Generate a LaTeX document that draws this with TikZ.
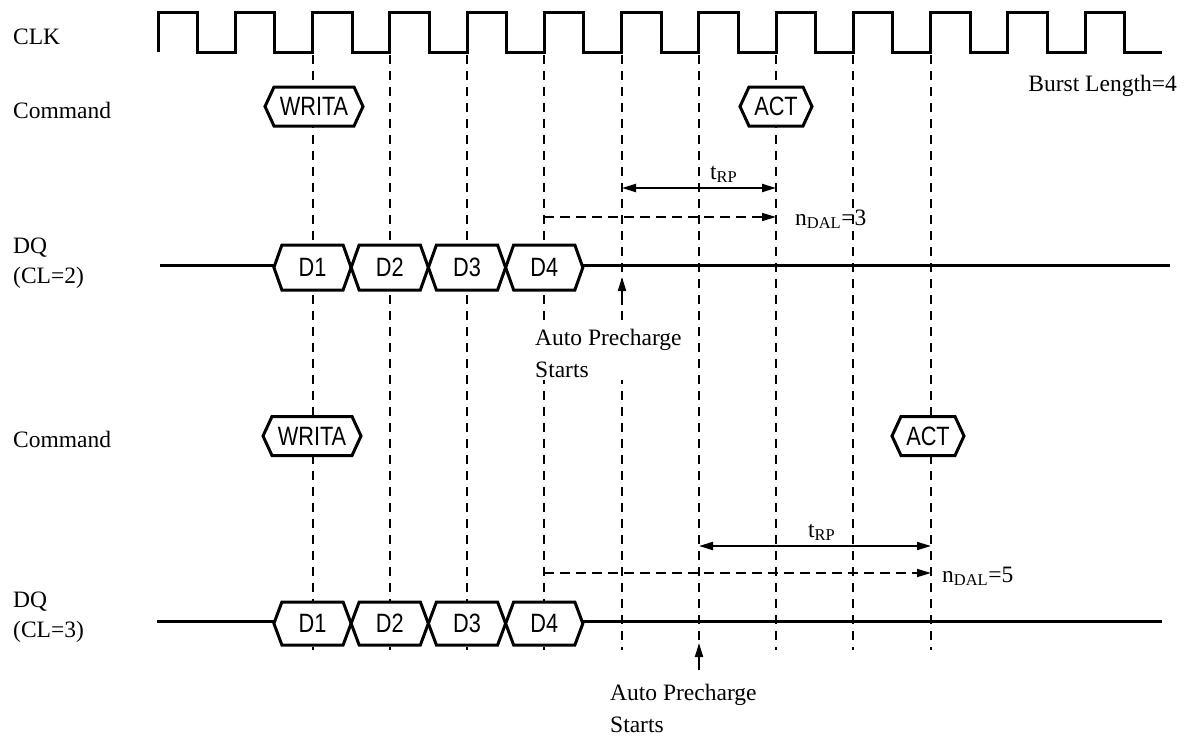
\documentclass[tikz,border=0pt]{standalone}
\usepackage{fontspec}
\setmainfont{Liberation Serif}
\newfontfamily\hexfont[FakeStretch=0.82]{Liberation Sans}
\usetikzlibrary{arrows.meta}
\newcommand{\hexsig}[7]{% name, cx, cy, halfwidth, halfheight, inset, text
  \filldraw[hex] ({#2-#4},#3) -- ({#2-#4+#6},{#3-#5}) -- ({#2+#4-#6},{#3-#5}) -- ({#2+#4},#3)
     -- ({#2+#4-#6},{#3+#5}) -- ({#2-#4+#6},{#3+#5}) -- cycle;
  \node[hextxt] (#1) at (#2,#3) {#7};}
\begin{document}
\begin{tikzpicture}[x=1pt,y=-1pt,
  lbl/.style={font=\fontsize{23.5}{32}\selectfont, inner sep=0pt, anchor=base west},
  gridline/.style={line width=1.5pt, dash pattern=on 9pt off 7pt},
  wave/.style={line width=3pt, line join=miter},
  hex/.style={line width=3pt, fill=white, draw=black, line join=miter},
  hextxt/.style={font=\hexfont\fontsize{26.5}{26.5}\selectfont, inner sep=0pt},
  dimarrow/.style={line width=2pt, {Triangle[length=14pt,width=8pt]}-{Triangle[length=14pt,width=8pt]}},
  dalarrow/.style={line width=1.5pt, dash pattern=on 10pt off 6pt, -{Triangle[length=14pt,width=8pt]}},
  aparrow/.style={line width=2pt, -{Triangle[length=14pt,width=8pt]}},
  note/.style={font=\fontsize{23.5}{32}\selectfont, fill=white, inner xsep=2pt, inner ysep=2pt, align=left, anchor=north west}
]
\useasboundingbox (0,0) rectangle (1185,736);

% clock edge coordinates
\foreach \k in {2,...,10} {\pgfmathsetmacro{\ex}{round(158+77.25*\k)}\coordinate (e\k) at (\ex,0);}

% dashed reference lines
\foreach \k in {2,...,10} {\draw[gridline] (e\k |- 0,55) -- (e\k |- 0,650);}

% clock waveform
\draw[wave] (158,52) \foreach \k in {0,...,12} { -- ({158+77.25*\k},52) -- ({158+77.25*\k},12) -- ({197.5+77.25*\k},12) -- ({197.5+77.25*\k},52) } -- (1162,52);

% labels
\node[lbl] (clk) at (13,44) {CLK};
\node[lbl] (cmd1) at (13,118) {Command};
\node[lbl] (dq1) at (13,253) {DQ};
\node[lbl] (cl2) at (13,283) {(CL=2)};
\node[lbl] (cmd2) at (13,447) {Command};
\node[lbl] (dq2) at (13,607) {DQ};
\node[lbl] (cl3) at (13,637) {(CL=3)};
\node[lbl, anchor=base east] (bl) at (1177,91) {Burst Length=4};

% DQ lines
\draw[wave] (160,265) -- (1170,265);
\draw[wave] (157,621) -- (1162,621);

% commands
\hexsig{writa1}{314}{106.5}{49}{19.5}{9}{WRITA}
\hexsig{act1}{776}{106.5}{36}{19.5}{9}{ACT}
\hexsig{writa2}{312}{436}{49}{19.5}{9}{WRITA}
\hexsig{act2}{928}{436}{36}{19.5}{9}{ACT}

% data upper
\hexsig{d1a}{312.5}{267.5}{38.6}{22.5}{8}{D1}
\hexsig{d2a}{389.75}{267.5}{38.6}{22.5}{8}{D2}
\hexsig{d3a}{467}{267.5}{38.6}{22.5}{8}{D3}
\hexsig{d4a}{544.25}{267.5}{38.6}{22.5}{8}{D4}
% data lower
\hexsig{d1b}{312.5}{623.5}{38.6}{21.5}{8}{D1}
\hexsig{d2b}{389.75}{623.5}{38.6}{21.5}{8}{D2}
\hexsig{d3b}{467}{623.5}{38.6}{21.5}{8}{D3}
\hexsig{d4b}{544.25}{623.5}{38.6}{21.5}{8}{D4}

% upper timing arrows
\coordinate (rp1s) at (e6 |- 0,188);
\coordinate (rp1e) at (e8 |- 0,188);
\draw[dimarrow] (rp1s) -- (rp1e);
\node[lbl] (trp1) at (710,179) {t\textsubscript{RP}};
\coordinate (dal1s) at (e5 |- 0,217);
\coordinate (dal1e) at (e8 |- 0,217);
\draw[dalarrow] (dal1s) -- (dal1e);
\node[lbl] (ndal1) at (795,225) {n\textsubscript{DAL}=3};

% lower timing arrows
\coordinate (rp2s) at (e7 |- 0,546);
\coordinate (rp2e) at (e10 |- 0,546);
\draw[dimarrow] (rp2s) -- (rp2e);
\node[lbl] (trp2) at (808,537) {t\textsubscript{RP}};
\coordinate (dal2s) at (e5 |- 0,573);
\coordinate (dal2e) at (e10 |- 0,573);
\draw[dalarrow] (dal2s) -- (dal2e);
\node[lbl] (ndal2) at (942,582) {n\textsubscript{DAL}=5};

% auto precharge
\node[note] (ap1) at (533,327) {Auto Precharge\\Starts};
\coordinate (ap1t) at (e6 |- 0,305);
\coordinate (ap1h) at (e6 |- 0,277);
\draw[aparrow] (ap1t) -- (ap1h);
\node[note] (ap2) at (608,682) {Auto Precharge\\Starts};
\coordinate (ap2t) at (e7 |- 0,670);
\coordinate (ap2h) at (e7 |- 0,643);
\draw[aparrow] (ap2t) -- (ap2h);
\end{tikzpicture}
\end{document}
